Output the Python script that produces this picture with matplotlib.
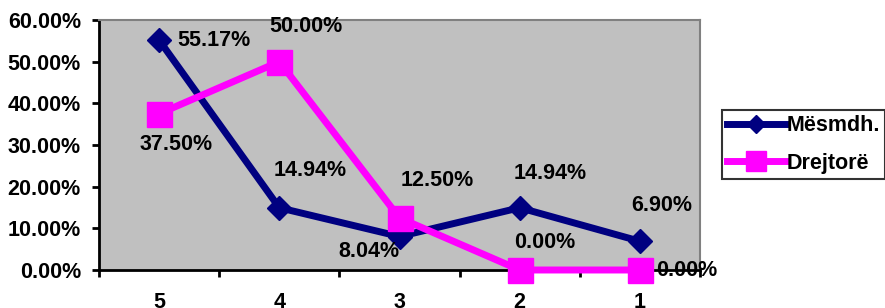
import numpy as np
import matplotlib.pyplot as plt
from matplotlib.ticker import PercentFormatter

# ---------- data ----------
categories = ['5', '4', '3', '2', '1']
mesmdh = [55.17, 14.94, 8.04, 14.94, 6.90]
drejtore = [37.50, 50.00, 12.50, 0.00, 0.00]
series_names = ['Mësmdh.', 'Drejtorë']

# label offsets (points) and alignment, per point
mesmdh_offsets = [((13, 0), 'left', 'center'), ((22, 27), 'center', 'center'),
                  ((0, -11), 'right', 'center'), ((22, 25), 'center', 'center'),
                  ((16, 26), 'center', 'center')]
drejtore_offsets = [((12, -22), 'center', 'center'), ((19, 25), 'center', 'center'),
                    ((27, 27), 'center', 'center'), ((18, 20), 'center', 'center'),
                    ((12, 0), 'left', 'center')]

plt.rcParams['font.family'] = ['Liberation Sans', 'DejaVu Sans']
plt.rcParams['font.weight'] = 'bold'

fig = plt.figure(figsize=(8.85, 3.08), dpi=100)
ax = fig.add_axes([99 / 885, 38 / 308, 601 / 885, 250 / 308])
ax.set_facecolor('#C0C0C0')

x = np.arange(len(categories))
navy = '#000080'
pink = '#FF00FF'

l1, = ax.plot(x, mesmdh, color=navy, lw=5, marker='D', ms=12,
              label=series_names[0], zorder=3, clip_on=False)
l2, = ax.plot(x, drejtore, color=pink, lw=5, marker='s', ms=18,
              label=series_names[1], zorder=4, clip_on=False)

fs = 15.5
for vals, offs in [(mesmdh, mesmdh_offsets), (drejtore, drejtore_offsets)]:
    for xi, v, (off, ha, va) in zip(x, vals, offs):
        ax.annotate(f'{v:.2f}%', (xi, v), xytext=off, textcoords='offset points',
                    ha=ha, va=va, fontsize=fs, fontweight='bold', color='black',
                    zorder=5, annotation_clip=False)

ax.set_xlim(-0.5, len(categories) - 0.5)
ax.set_ylim(0, 60)
ax.set_yticks(np.arange(0, 61, 10))
ax.yaxis.set_major_formatter(PercentFormatter(decimals=2))

ax.set_xticks(x)
ax.set_xticklabels(categories)
ax.set_xticks(np.arange(-0.5, len(categories), 1), minor=True)
ax.tick_params(axis='x', which='major', length=0, pad=16, labelsize=fs)
ax.tick_params(axis='x', which='minor', length=5, width=2, direction='out')
ax.tick_params(axis='y', length=5, width=2, direction='out', pad=8, labelsize=fs)
for lab in ax.get_xticklabels() + ax.get_yticklabels():
    lab.set_fontweight('bold')

ax.spines['left'].set_linewidth(2)
ax.spines['bottom'].set_linewidth(2)
ax.spines['top'].set_color('#808080')
ax.spines['right'].set_color('#808080')
ax.spines['top'].set_linewidth(1.5)
ax.spines['right'].set_linewidth(1.5)

leg = fig.legend(handles=[l1, l2], loc='upper left',
                 bbox_to_anchor=(722 / 885, 198 / 308), borderaxespad=0,
                 frameon=True, fancybox=False, edgecolor='black', fontsize=fs,
                 handlelength=2.7, handletextpad=0.05, borderpad=0.25,
                 labelspacing=0.75, markerscale=0.8)
leg.get_frame().set_linewidth(1.5)
for t in leg.get_texts():
    t.set_fontweight('bold')

fig.savefig('out.png', dpi=100)
